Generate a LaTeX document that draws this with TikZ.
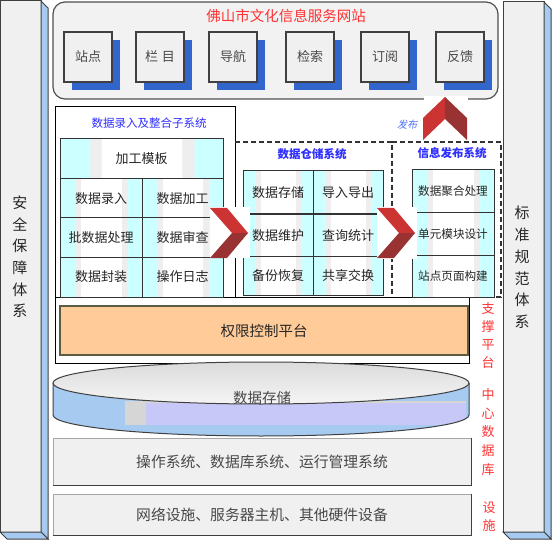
\documentclass[tikz,border=0pt]{standalone}
\usepackage{fontspec}
\setmainfont{Noto Sans CJK SC}
\newfontfamily\slcjk[FakeSlant=0.25]{Noto Sans CJK SC}
\usetikzlibrary{shadows}
\definecolor{pillarfill}{HTML}{F0F0F0}
\definecolor{pblue}{HTML}{A6CAF0}
\definecolor{edgegray}{HTML}{404040}
\definecolor{webfill}{HTML}{F2F2F2}
\definecolor{webline}{HTML}{505050}
\definecolor{boxfill}{HTML}{F0F0F0}
\definecolor{shadowblue}{HTML}{3366CC}
\definecolor{titlered}{HTML}{FF3333}
\definecolor{subblue}{HTML}{2E2EFF}
\definecolor{pubblue}{HTML}{4F6FFF}
\definecolor{cellcyan}{HTML}{CCFFFF}
\definecolor{cellgray}{HTML}{EEEEEE}
\definecolor{cellline}{HTML}{333333}
\definecolor{permfill}{HTML}{FFCC99}
\definecolor{permline}{HTML}{5C5C45}
\definecolor{txt}{HTML}{262626}
\definecolor{softtxt}{HTML}{484848}
\definecolor{redA}{HTML}{CC3333}
\definecolor{redB}{HTML}{993333}
\definecolor{lavender}{HTML}{C8C8F8}
\definecolor{cylgray}{HTML}{D6D6D6}
\pgfdeclarehorizontalshading{cellshade}{100bp}{color(0bp)=(cellcyan); color(34bp)=(cellcyan); color(34.3bp)=(cellgray); color(37.5bp)=(cellgray); color(37.8bp)=(white); color(62.2bp)=(white); color(62.5bp)=(cellgray); color(66bp)=(cellgray); color(66.3bp)=(cellcyan); color(100bp)=(cellcyan)}
\newcommand{\myfs}[1]{\fontsize{#1}{#1}\selectfont}
\newcommand{\myfsb}[2]{\fontsize{#1}{#2}\selectfont}
\newcommand{\cellbox}[6]{%
  \node[cellsty, minimum width={#4-#2}, minimum height={#5-#3}] (#1) at ({(#2+#4)/2},{(#3+#5)/2}) {#6};}
\newcommand{\chevR}[2]{%
  \fill[redA] (#1,#2) -- ({#1+17},#2) -- ({#1+38},{#2+25}) -- ({#1+22},{#2+25}) -- cycle;
  \fill[redB] ({#1+22},{#2+25}) -- ({#1+38},{#2+25}) -- ({#1+17},{#2+50}) -- (#1,{#2+50}) -- cycle;}
\begin{document}
\begin{tikzpicture}[x=1pt,y=-1pt,
  edge/.style={draw=edgegray, line width=1pt},
  webbtn/.style={draw=edgegray, line width=1.2pt, fill=boxfill, minimum width=48pt, minimum height=50pt, inner sep=0pt, font=\myfs{13}, text=softtxt,
    drop shadow={shadow xshift=7.5pt, shadow yshift=-8pt, fill=shadowblue, opacity=1}},
  cellsty/.style={draw=cellline, line width=1pt, shade, shading=cellshade, inner sep=0pt, text=txt},
  frame/.style={draw=black, line width=1pt},
  dashbox/.style={draw=cellline, line width=1.2pt, dash pattern=on 5pt off 3pt},
  subtitle/.style={text=subblue, font=\myfs{11.5}},
  basebox/.style={draw=gray!70, line width=1pt, fill=boxfill, minimum width=418pt, inner sep=0pt, font=\myfs{14.8}, text=softtxt},
  redlabel/.style={text=titlered, align=center, inner sep=0pt},
  pillarlabel/.style={text=txt, align=center, inner sep=0pt}
]
\useasboundingbox (0,0) rectangle (554,540);
\fill[white] (0,0) rectangle (554,540);

% left pillar
\draw[edge, fill=pillarfill] (0,1) rectangle (41,532);
\draw[edge, fill=pblue] (41,1) -- (48,8) -- (48,539) -- (41,532) -- cycle;
\draw[edge, fill=pblue] (0,532) -- (41,532) -- (48,539) -- (7,539) -- cycle;
\node[pillarlabel, font=\myfsb{15}{21.6}] (safety) at (20,257) {安\\全\\保\\障\\体\\系};

% right pillar
\draw[edge, fill=pillarfill] (503,2) rectangle (544,532);
\draw[edge, fill=pblue] (544,2) -- (551,9) -- (551,539) -- (544,532) -- cycle;
\draw[edge, fill=pblue] (503,532) -- (544,532) -- (551,539) -- (510,539) -- cycle;
\node[pillarlabel, font=\myfsb{15}{21.8}] (standard) at (522,267.5) {标\\准\\规\\范\\体\\系};

% website box
\node[draw=webline, line width=1.2pt, fill=webfill, rounded corners=12pt, minimum width=445pt, minimum height=97pt, inner sep=0pt] (web) at (275.5,50.5) {};
\node[text=titlered, font=\myfs{14.5}] (webtitle) at (286,16) {佛山市文化信息服务网站};
\node[webbtn] (b1) at (88,57) {站点};
\node[webbtn] (b2) at (160,57) {栏\hspace{4pt}目};
\node[webbtn] (b3) at (233,57) {导航};
\node[webbtn] (b4) at (310,57) {检索};
\node[webbtn] (b5) at (385,57) {订阅};
\node[webbtn] (b6) at (460,57) {反馈};

% frames
\draw[frame] (55,107) rectangle (235,297);
\draw[frame] (55,297) rectangle (469,363);
\draw[dashbox] (235,142) -- (392,142) -- (392,297);
\draw[dashbox] (392,142) -- (501,142) -- (501,297) -- (469,297);

\node[subtitle] (t1) at (149,123) {数据录入及整合子系统};
\node[subtitle, font=\myfs{11.5}\bfseries] (t2) at (312,154) {数据仓储系统};
\node[subtitle, font=\myfs{11.5}\bfseries] (t3) at (452,153) {信息发布系统};

% entry cells
\begin{scope}[cellsty/.append style={font=\myfs{13}}]
\cellbox{jgmb}{60}{139}{223}{179}{加工模板}
\cellbox{sjlr}{60}{179}{142}{218}{数据录入}
\cellbox{sjjg}{142}{179}{223}{218}{数据加工}
\cellbox{psjcl}{60}{218}{142}{257}{批数据处理}
\cellbox{sjsc}{142}{218}{223}{257}{数据审查}
\cellbox{sjfz}{60}{257}{142}{297}{数据封装}
\cellbox{czrz}{142}{257}{223}{297}{操作日志}
\cellbox{sjcc}{243}{171}{313}{215}{数据存储}
\cellbox{drdc}{313}{171}{383}{215}{导入导出}
\cellbox{sjwh}{243}{215}{313}{256}{数据维护}
\cellbox{cxtj}{313}{215}{383}{256}{查询统计}
\cellbox{bfhf}{243}{256}{313}{295}{备份恢复}
\cellbox{gxjh}{313}{256}{383}{295}{共享交换}
\end{scope}
\begin{scope}[cellsty/.append style={font=\myfs{11.6}}]
\cellbox{sjjhcl}{412}{170}{494}{213}{数据聚合处理}
\cellbox{dymk}{412}{213}{494}{255}{单元模块设计}
\cellbox{zdym}{412}{255}{494}{297}{站点页面构建}
\end{scope}
\draw[cellline, line width=2pt] (sjwh.north west) -- (cxtj.north east);

% chevrons
\fill[white] (210,207) rectangle (250,258);
\chevR{210}{208}
\fill[white] (377,207) rectangle (417,259);
\chevR{377}{208}
\fill[white] (424,96) rectangle (468,141);
\fill[redA] (423,140) -- (423,118) -- (445,97) -- (445,119) -- cycle;
\fill[redB] (445,97) -- (467,118) -- (467,140) -- (445,119) -- cycle;
\node[text=pubblue, font=\slcjk\myfs{10}] (pub) at (407,125) {发布};

% permission platform
\node[draw=permline, line width=1.5pt, fill=permfill, minimum width=408pt, minimum height=49pt, inner sep=0pt, font=\myfs{14.5}, text=txt] (perm) at (264,330.5) {权限控制平台};

% cylinder
\path[fill=pblue] (53,383) -- (53,415) arc[start angle=180, end angle=360, x radius=208pt, y radius=21pt] -- (469,383) arc[start angle=0, end angle=-180, x radius=208pt, y radius=21pt] -- cycle;
\begin{scope}
\clip (53,383) -- (53,415) arc[start angle=180, end angle=360, x radius=208pt, y radius=21pt] -- (469,383) arc[start angle=0, end angle=-180, x radius=208pt, y radius=21pt] -- cycle;
\fill[cylgray] (125,401) rectangle (466,425);
\fill[lavender] (146,403) rectangle (466,425);
\end{scope}
\draw[edgegray, line width=1pt] (53,383) -- (53,415) arc[start angle=180, end angle=360, x radius=208pt, y radius=21pt] -- (469,383);
\draw[edgegray, line width=1pt, top color=gray!28, bottom color=gray!8] (261,383) ellipse [x radius=208pt, y radius=21pt];
\node[text=softtxt, font=\myfs{14.5}] (store) at (262,398) {数据存储};

% base boxes
\node[basebox, minimum height=47pt] (os) at (262,461.5) {操作系统、数据库系统、运行管理系统};
\draw[edgegray, line width=1.5pt] (os.north east) -- (os.south east) -- (os.south west);
\node[basebox, minimum height=41pt] (hw) at (262,514.5) {网络设施、服务器主机、其他硬件设备};
\draw[edgegray, line width=1.5pt] (hw.north east) -- (hw.south east) -- (hw.south west);

% red labels
\node[redlabel, font=\myfsb{13}{18.2}] (l1) at (488,335.5) {支\\撑\\平\\台};
\node[redlabel, font=\myfsb{13}{18.6}] (l2) at (488,432) {中\\心\\数\\据\\库};
\node[redlabel, font=\myfsb{13}{18.5}] (l3) at (489,516.5) {设\\施};
\end{tikzpicture}
\end{document}
